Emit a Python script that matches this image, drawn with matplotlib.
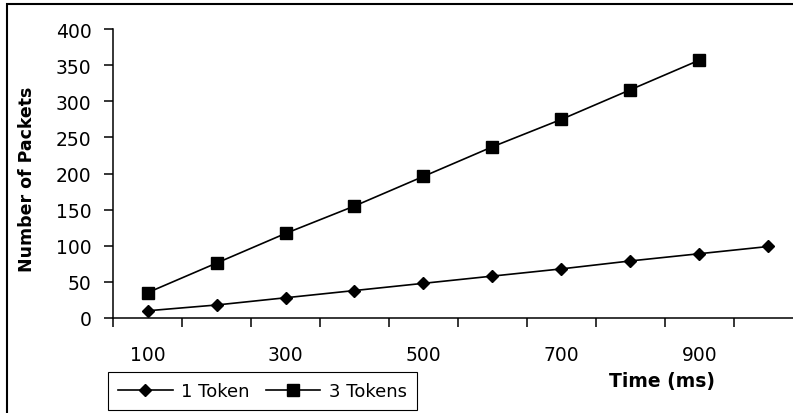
import matplotlib
matplotlib.use("Agg")
import matplotlib.pyplot as plt
from matplotlib.patches import Rectangle
from matplotlib.lines import Line2D
import numpy as np

# ---- data ----
times = [100, 200, 300, 400, 500, 600, 700, 800, 900, 1000]
one_token = [10, 18, 28, 38, 48, 58, 68, 79, 89, 99]
three_tokens = [35, 76, 117, 155, 196, 237, 275, 316, 357]
x_tick_labels = ["100", "300", "500", "700", "900"]
y_ticks = [0, 50, 100, 150, 200, 250, 300, 350, 400]

plt.rcParams['font.family'] = ['DejaVu Sans']

W, H = 793, 414
fig = plt.figure(figsize=(W / 100, H / 100), dpi=100)
fig.patch.set_facecolor('white')

# axes in pixel coords: left 113, bottom y=319 (from top), top y=30, 69 px per category
ax = fig.add_axes([113 / W, (H - 319) / H, 690 / W, 289 / H])

idx1 = np.arange(len(one_token))
idx3 = np.arange(len(three_tokens))
ax.plot(idx1, one_token, color='black', lw=1.2, marker='D', ms=6.4,
        markerfacecolor='black', markeredgecolor='black', label='1 Token', clip_on=False)
ax.plot(idx3, three_tokens, color='black', lw=1.2, marker='s', ms=9,
        markerfacecolor='black', markeredgecolor='black', label='3 Tokens', clip_on=False)

ax.set_xlim(-0.5, len(times) - 0.5)
ax.set_ylim(0, 400)

for s in ['top', 'right']:
    ax.spines[s].set_visible(False)
for s in ['left', 'bottom']:
    ax.spines[s].set_color('black')
    ax.spines[s].set_linewidth(1.1)

# y ticks
ax.set_yticks(y_ticks)
ax.set_yticklabels([str(v) for v in y_ticks])
ax.tick_params(axis='y', direction='out', length=6.5, width=1.1, pad=9,
               labelsize=13.5, colors='black')

# x: major ticks at category boundaries, labels on minor ticks at category centres
ax.set_xticks(np.arange(len(times) + 1) - 0.5)
ax.set_xticklabels([])
label_pos = [times.index(int(t)) for t in x_tick_labels]
ax.set_xticks(label_pos, minor=True)
ax.set_xticklabels(x_tick_labels, minor=True)
ax.tick_params(axis='x', which='major', direction='out', length=6.5, width=1.1)
ax.tick_params(axis='x', which='minor', length=0, pad=19.5, labelsize=13.5, colors='black')

# axis titles
fig.text(27 / W, 1 - 179 / H, 'Number of Packets', rotation=90, ha='center', va='center',
         fontsize=12.5, fontweight='bold')
fig.text(662 / W, 1 - 382 / H, 'Time (ms)', ha='center', va='center',
         fontsize=13.5, fontweight='bold')

# legend
handles = [Line2D([], [], color='black', lw=1.2, marker='D', ms=6.4),
           Line2D([], [], color='black', lw=1.2, marker='s', ms=9)]
leg = fig.legend(handles, ['1 Token', '3 Tokens'], loc='center',
                 bbox_to_anchor=(262.5 / W, 1 - 392 / H), ncol=2, numpoints=1,
                 fontsize=13, frameon=True, fancybox=False, framealpha=1,
                 edgecolor='black', handlelength=3.0, handletextpad=0.45,
                 columnspacing=0.95, borderpad=0.55)
leg.get_frame().set_linewidth(0.8)

# outer frame
fig.add_artist(Rectangle((7 / W, -1), 5, 1 - 5 / H + 1, transform=fig.transFigure,
                         fill=False, ec='black', lw=1.5, clip_on=False))

fig.savefig('out.png', dpi=100)
